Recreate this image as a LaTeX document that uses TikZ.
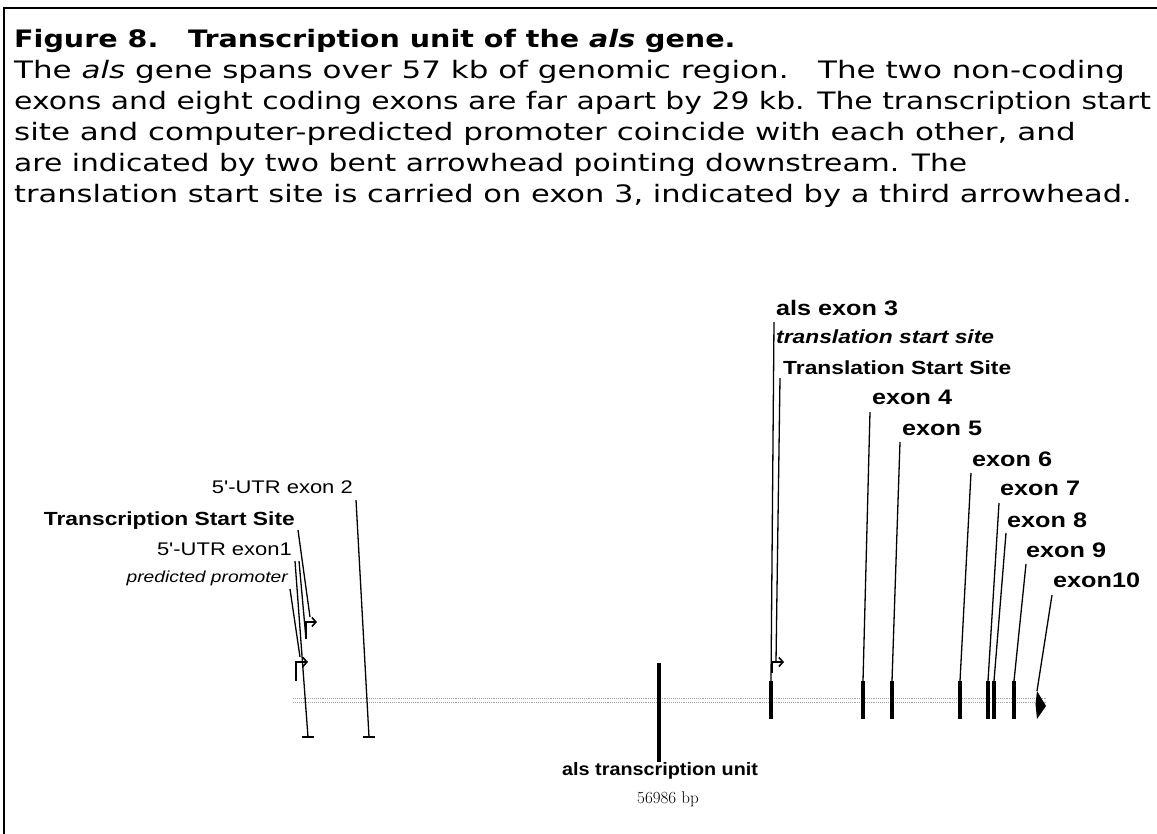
\documentclass[tikz,border=0pt]{standalone}
\usepackage{fontspec}
\newfontfamily\capfont{DejaVu Sans}
\newfontfamily\labfont{Liberation Sans}
\usetikzlibrary{arrows.meta}
\newcommand{\hstretch}[2][1.2]{\scalebox{#1}[1]{#2}}
\begin{document}
\begin{tikzpicture}[x=1pt,y=-1pt,
  captxt/.style={anchor=base west, inner sep=0, font=\capfont\fontsize{24}{24}\selectfont},
  lab/.style={inner sep=0, font=\labfont\bfseries\fontsize{21}{21}\selectfont},
  labs/.style={inner sep=0, font=\labfont\bfseries\fontsize{19}{19}\selectfont},
  labr/.style={inner sep=0, font=\labfont\fontsize{18.3}{18.3}\selectfont},
  leader/.style={line width=1.3pt},
  exonbar/.style={line width=4pt},
  bentarrow/.style={line width=1.8pt, -{Straight Barb[length=4pt,width=9pt,line width=1.6pt]}},
  geneaxis/.style={gray!70, densely dotted, line width=0.9pt}]
\useasboundingbox (0,0) rectangle (1157,834);
% frame
\draw[line width=2pt] (4,834) -- (4,8) -- (1157,8);
% caption
\node[captxt] (c1) at (14,48) {\hstretch[1.19]{\bfseries Figure 8.\ \ \ Transcription unit of the \textit{als} gene.}};
\node[captxt] (c2) at (14,79) {\hstretch[1.29]{The \textit{als} gene spans over 57 kb of genomic region.\ \ \ The two non-coding}};
\node[captxt] (c3) at (14,110) {\hstretch[1.243]{exons and eight coding exons are far apart by 29 kb. The transcription start}};
\node[captxt] (c4) at (14,141) {\hstretch[1.29]{site and computer-predicted promoter coincide with each other, and}};
\node[captxt] (c5) at (14,172) {\hstretch[1.24]{are indicated by two bent arrowhead pointing downstream. The}};
\node[captxt] (c6) at (14,203) {\hstretch[1.27]{translation start site is carried on exon 3, indicated by a third arrowhead.}};
% gene axis
\coordinate (axL) at (293,698);
\coordinate (axR) at (1046,698);
\coordinate (axL2) at (293,702);
\coordinate (axR2) at (1046,702);
\draw[geneaxis] (axL) -- (axR);
\draw[geneaxis] (axL2) -- (axR2);
% transcription unit marker
\coordinate (tuT) at (659,663);
\coordinate (tuB) at (659,762);
\draw[line width=3.5pt] (tuT) -- (tuB);
\node[inner sep=0, anchor=base west, font=\labfont\bfseries\fontsize{18}{18}\selectfont] (tu) at (562,775) {\hstretch[1.1]{als transcription unit}};
\node[inner sep=0, anchor=base west, font=\fontsize{17}{17}\selectfont] (bp) at (637,803) {\oldstylenums{56986} bp};
% exon bars
\foreach \n/\x in {3/771,4/863,5/892,6/960,7/988,8/994,9/1014}{
  \coordinate (e\n t) at (\x,681);
  \coordinate (e\n b) at (\x,719);
  \draw[exonbar] (e\n t) -- (e\n b);
}
\coordinate (e10t) at (1037,691);
\fill (e10t) -- (1046,706) -- (1037,719) -- (1035.5,704) -- cycle;
% right labels
\node[lab, anchor=base west] (l3) at (776,316) {\hstretch{als exon 3}};
\node[inner sep=0, anchor=base west, font=\labfont\bfseries\itshape\fontsize{19}{19}\selectfont] (l3b) at (776,344) {\hstretch{translation start site}};
\node[labs, anchor=base west] (l3c) at (783,374) {\hstretch{Translation Start Site}};
\node[lab, anchor=base west] (l4) at (872,404) {\hstretch{exon 4}};
\node[lab, anchor=base west] (l5) at (902,435) {\hstretch{exon 5}};
\node[lab, anchor=base west] (l6) at (972,466) {\hstretch{exon 6}};
\node[lab, anchor=base west] (l7) at (1000,495) {\hstretch{exon 7}};
\node[lab, anchor=base west] (l8) at (1007,527) {\hstretch{exon 8}};
\node[lab, anchor=base west] (l9) at (1026,557) {\hstretch{exon 9}};
\node[lab, anchor=base west] (l10) at (1053,587) {\hstretch{exon10}};
% right leaders
\coordinate (s3a) at (774,322);
\coordinate (s3b) at (780,378);
\coordinate (e3a) at (776,662);
\coordinate (s4) at (870,412);
\coordinate (s5) at (900,442);
\coordinate (s6) at (971,473);
\coordinate (s7) at (999,503);
\coordinate (s8) at (1006,533);
\coordinate (s9) at (1026,564);
\coordinate (s10) at (1052,595);
\draw[leader] (s3a) -- (e3t);
\draw[leader] (s3b) -- (e3a);
\draw[leader] (s4) -- (e4t);
\draw[leader] (s5) -- (e5t);
\draw[leader] (s6) -- (e6t);
\draw[leader] (s7) -- (e7t);
\draw[leader] (s8) -- (e8t);
\draw[leader] (s9) -- (e9t);
\draw[leader] (s10) -- (e10t);
% translation start bent arrow
\coordinate (b3s) at (772,673);
\coordinate (b3e) at (784,662);
\draw[bentarrow] (b3s) |- (b3e);
% left labels
\node[labr, anchor=base east] (u2) at (353,493) {\hstretch{5'-UTR exon 2}};
\node[labs, anchor=base east] (tss) at (295,525) {\hstretch{Transcription Start Site}};
\node[labr, anchor=base east] (u1) at (292,555) {\hstretch{5'-UTR exon1}};
\node[inner sep=0, anchor=base east, font=\labfont\itshape\fontsize{16}{16}\selectfont] (pp) at (288,582) {\hstretch{predicted promoter}};
% left markers
\coordinate (x1b) at (308,737);
\coordinate (x2b) at (369,737);
\draw[line width=2pt] ([xshift=-6pt]x1b) -- ([xshift=6pt]x1b);
\draw[line width=2pt] ([xshift=-6pt]x2b) -- ([xshift=6pt]x2b);
% bent arrows (TSS and promoter)
\coordinate (bus) at (306,639);
\coordinate (bue) at (317,622);
\coordinate (bls) at (296,681);
\coordinate (ble) at (308,662);
\draw[bentarrow] (bus) |- (bue);
\draw[bentarrow] (bls) |- (ble);
% left leaders
\coordinate (sTSS) at (298,530);
\coordinate (eTSS) at (310,617);
\coordinate (su1a) at (295,561);
\coordinate (su1b) at (299,561);
\coordinate (spp) at (290,589);
\coordinate (epp) at (300,657);
\coordinate (su2) at (356,500);
\draw[leader] (sTSS) -- (eTSS);
\draw[leader] (su1a) -- (x1b);
\draw[leader] (su1b) -- (bus);
\draw[leader] (spp) -- (epp);
\draw[leader] (su2) -- (x2b);
\end{tikzpicture}
\end{document}
